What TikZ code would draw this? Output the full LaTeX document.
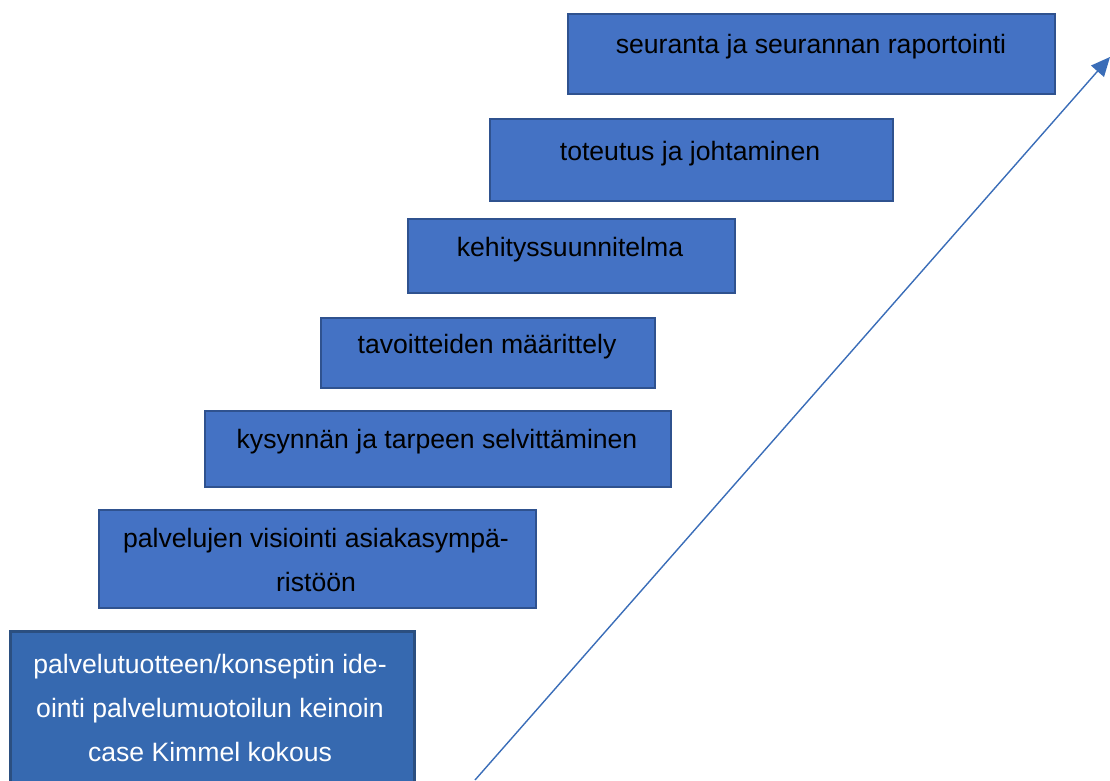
\documentclass[tikz,border=0pt]{standalone}
\usepackage{fontspec}
\setmainfont{Liberation Sans}
\usetikzlibrary{arrows.meta}
\definecolor{boxfill}{HTML}{4472C4}
\definecolor{boxline}{HTML}{2F528F}
\definecolor{basefill}{HTML}{3669B0}
\definecolor{baseline}{HTML}{2B4F80}
\definecolor{arrowcol}{HTML}{3A6DB8}
\tikzset{
  stepbox/.style={draw=boxline, line width=1.6pt, fill=boxfill, anchor=north west, inner sep=0pt},
  basebox/.style={draw=baseline, line width=3pt, fill=basefill, anchor=north west, inner sep=0pt},
  steptext/.style={font=\fontsize{26.6}{44}\selectfont, text=black, align=center, inner sep=0pt},
  basetext/.style={font=\fontsize{26.6}{44}\selectfont, text=white, align=center, inner sep=0pt},
}
\begin{document}
\begin{tikzpicture}[x=1pt,y=-1pt]
\useasboundingbox (0,0) rectangle (1110,781);
\clip (0,0) rectangle (1110,781);
% boxes
\node[stepbox, minimum width=487pt, minimum height=80pt] (b7) at (567,13) {};
\node[stepbox, minimum width=403pt, minimum height=82pt] (b6) at (489,118) {};
\node[stepbox, minimum width=327pt, minimum height=74pt] (b5) at (407,218) {};
\node[stepbox, minimum width=334pt, minimum height=70pt] (b4) at (320,317) {};
\node[stepbox, minimum width=466pt, minimum height=76pt] (b3) at (204,410) {};
\node[stepbox, minimum width=437pt, minimum height=98pt] (b2) at (98,509) {};
\node[basebox, minimum width=404pt, minimum height=170pt] (b1) at (9,630) {};
% texts
\node[steptext] (t7) at (811,47) {seuranta ja seurannan raportointi};
\node[steptext] (t6) at (690,154) {toteutus ja johtaminen};
\node[steptext] (t5) at (570,250) {kehityssuunnitelma};
\node[steptext] (t4) at (487,347) {tavoitteiden määrittely};
\node[steptext] (t3) at (437,442) {kysynnän ja tarpeen selvittäminen};
\node[steptext] (t2) at (316,560) {palvelujen visiointi asiakasympä-\\ristöön};
\node[basetext] (t1) at (210,708) {palvelutuotteen/konseptin ide-\\ointi palvelumuotoilun keinoin\\case Kimmel kokous};
% arrow
\coordinate (a0) at (475,780);
\coordinate (a1) at (1110,57);
\draw[arrowcol, line width=1.4pt, -{Triangle[length=19pt,width=17pt]}] (a0) -- (a1);
\end{tikzpicture}
\end{document}
